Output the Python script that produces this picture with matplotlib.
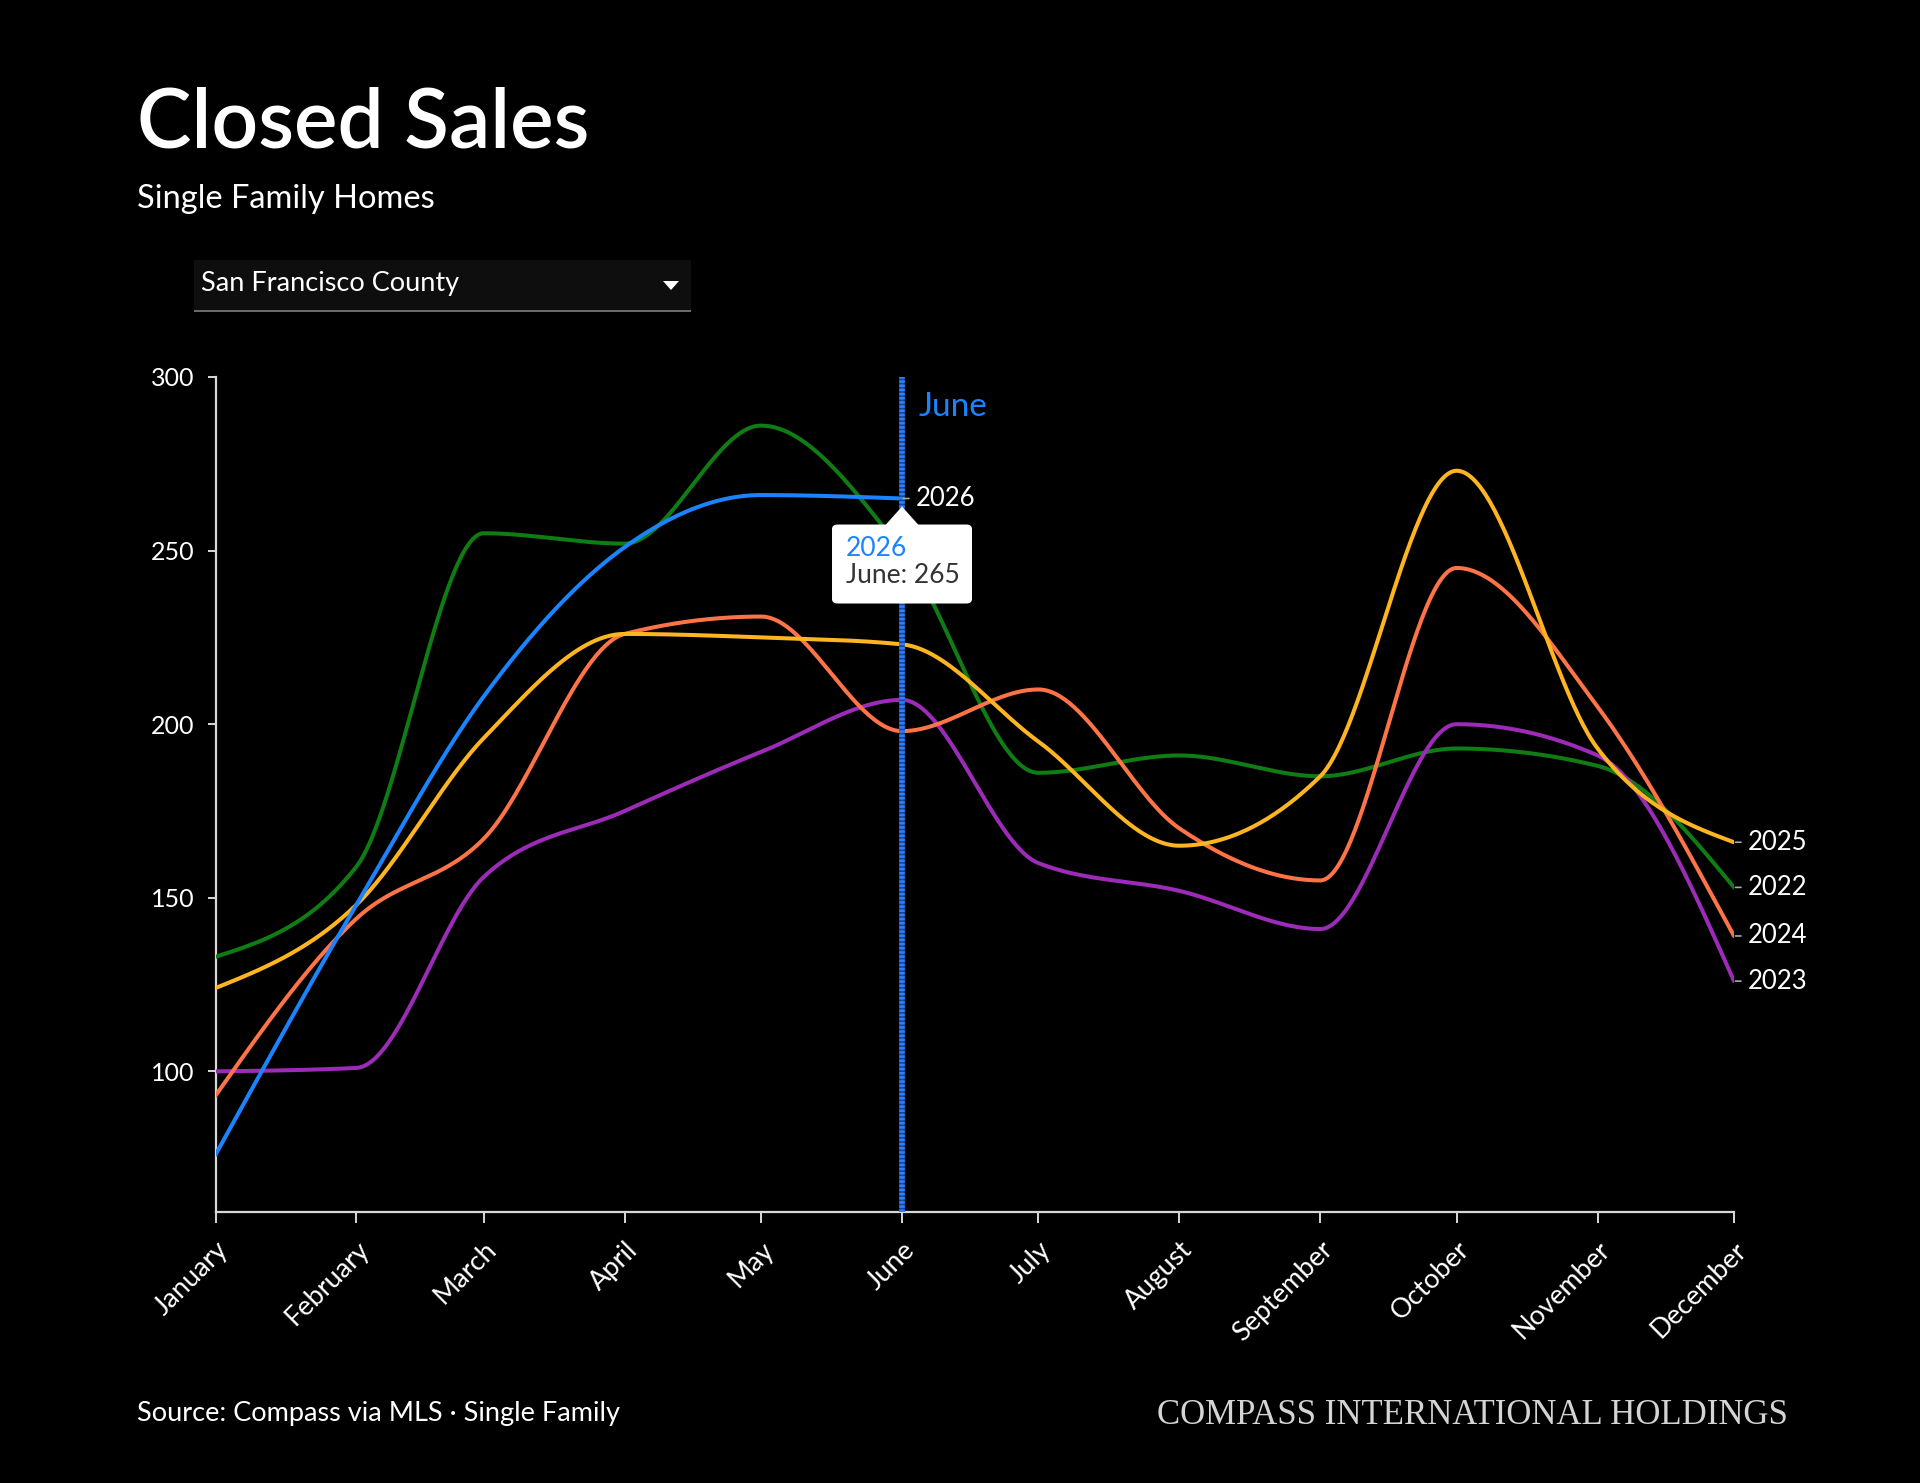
import numpy as np
import pandas as pd
import matplotlib
matplotlib.use("Agg")
import matplotlib.pyplot as plt
import matplotlib.dates as mdates
from matplotlib.patches import FancyBboxPatch, Polygon, Rectangle

# ---- data ----
months = ["January", "February", "March", "April", "May", "June", "July",
          "August", "September", "October", "November", "December"]
month_dates = pd.date_range("2026-01-01", periods=12, freq="MS")

sales_2022 = [133, 159, 255, 252, 286, 250, 186, 191, 185, 193, 188, 153]
sales_2023 = [100, 101, 156, 175, 192, 207, 160, 152, 141, 200, 191, 126]
sales_2024 = [93, 144, 167, 226, 231, 198, 210, 170, 155, 245, 205, 139]
sales_2025 = [124, 148, 196, 226, 225, 223, 195, 165, 185, 273, 193, 166]
sales_2026 = [76, 148, 208, 251, 266, 265]

years = ["2022", "2023", "2024", "2025", "2026"]
colors = ["#0f7d14", "#9c2bb8", "#ff7446", "#ffb520", "#1a84ff"]
all_sales = [sales_2022, sales_2023, sales_2024, sales_2025, sales_2026]

y_ticks = [100, 150, 200, 250, 300]

BG = "#000000"
FONT = ["Lato", "DejaVu Sans"]
plt.rcParams["font.family"] = FONT


def monotone_x(x, y, n=60):
    # same shape as d3.curveMonotoneX
    x = np.asarray(x, float)
    y = np.asarray(y, float)
    h = np.diff(x)
    s = np.diff(y) / h
    t = np.zeros_like(y)
    sgn = lambda v: -1.0 if v < 0 else 1.0
    for i in range(1, len(x) - 1):
        p = (s[i - 1] * h[i] + s[i] * h[i - 1]) / (h[i - 1] + h[i])
        t[i] = (sgn(s[i - 1]) + sgn(s[i])) * min(abs(s[i - 1]), abs(s[i]), 0.5 * abs(p))
    t[0] = (3 * s[0] - t[1]) / 2
    t[-1] = (3 * s[-1] - t[-2]) / 2
    xs, ys = [], []
    u = np.linspace(0, 1, n)
    for i in range(len(x) - 1):
        h00 = 2 * u**3 - 3 * u**2 + 1
        h10 = u**3 - 2 * u**2 + u
        h01 = -2 * u**3 + 3 * u**2
        h11 = u**3 - u**2
        xs.append(x[i] + u * h[i])
        ys.append(h00 * y[i] + h10 * h[i] * t[i] + h01 * y[i + 1] + h11 * h[i] * t[i + 1])
    return np.concatenate(xs), np.concatenate(ys)


W, H = 1920, 1483
fig = plt.figure(figsize=(W / 100, H / 100), dpi=100, facecolor=BG)
ax = fig.add_axes([215.5 / W, 1 - 1212 / H, (1734 - 215.5) / W, (1212 - 377) / H])
ax.set_facecolor(BG)

xnum = mdates.date2num(month_dates)

for yr, vals, c in zip(years, all_sales, colors):
    xs, ys = monotone_x(xnum[:len(vals)], vals)
    ax.plot(xs, ys, color=c, lw=2.9, solid_capstyle="round", zorder=3)

ax.set_xlim(xnum[0], xnum[-1])
ax.set_ylim(59.5, 300)

for side in ["top", "right"]:
    ax.spines[side].set_visible(False)
for side in ["left", "bottom"]:
    ax.spines[side].set_color("#d8d8d8")
    ax.spines[side].set_linewidth(1.6)

ax.set_yticks(y_ticks)
ax.set_yticklabels([str(v) for v in y_ticks])
ax.set_xticks(xnum)
ax.set_xticklabels(months, rotation=45, ha="right", va="top", rotation_mode="anchor")
ax.tick_params(axis="y", colors="#d8d8d8", labelcolor="white", labelsize=18,
               length=6, width=1.4, pad=9)
ax.tick_params(axis="x", colors="#d8d8d8", labelcolor="white", labelsize=19.5,
               length=8, width=1.4, pad=10)

# June marker line
june_x = xnum[5]
ax.axvline(june_x, color="#17479a", lw=4, zorder=4)
ax.axvline(june_x, color="#2f80ff", lw=4, dashes=(0.45, 0.3), zorder=4)
ax.annotate("June", xy=(june_x, 300), xytext=(12, -11), textcoords="offset points",
            color="#1a84ff", fontsize=24, ha="left", va="top")

# end-of-line year labels
for yr, vals in zip(years, all_sales):
    xe, ye = xnum[len(vals) - 1], vals[-1]
    ax.annotate("", xy=(xe, ye), xytext=(7, 0), textcoords="offset pixels",
                arrowprops=dict(arrowstyle="-", color="#aaaaaa", lw=1.2,
                                shrinkA=0, shrinkB=1), zorder=5)
    ax.annotate(yr, xy=(xe, ye), xytext=(10, 0), textcoords="offset points",
                color="white", fontsize=18.5, ha="left", va="center", zorder=6)

# tooltip
fig.canvas.draw()
px, py = ax.transData.transform((june_x, sales_2026[-1]))
to_fig = fig.transFigure.inverted()


def fpt(x, y):
    return tuple(to_fig.transform((x, y)))


tri = Polygon([fpt(px, py - 8), fpt(px - 17, py - 27), fpt(px + 17, py - 27)],
              closed=True, transform=fig.transFigure, facecolor="white",
              edgecolor="none", zorder=10)
fig.patches.append(tri)
bx0, by0 = fpt(px - 70, py - 105)
bx1, by1 = fpt(px + 70, py - 26)
box = FancyBboxPatch((bx0, by0), bx1 - bx0, by1 - by0,
                     boxstyle="round,pad=0,rounding_size=0.003",
                     transform=fig.transFigure, facecolor="white",
                     edgecolor="none", zorder=10)
fig.patches.append(box)
tx, ty = fpt(px - 56, py - 50)
fig.text(tx, ty, "2026", color="#1a84ff", fontsize=19, ha="left", va="center", zorder=11)
tx, ty = fpt(px - 56, py - 77)
fig.text(tx, ty, "June: 265", color="#333333", fontsize=19, ha="left", va="center", zorder=11)

# header
fig.text(137 / W, 1 - 148 / H, "Closed Sales", color="white", fontsize=59,
         fontweight="semibold", ha="left", va="baseline")
fig.text(137 / W, 1 - 208 / H, "Single Family Homes", color="white", fontsize=23.5,
         ha="left", va="baseline")

# dropdown
fig.patches.append(Rectangle((193.5 / W, 1 - 311 / H), (690.6 - 193.5) / W, (311 - 259.6) / H,
                             transform=fig.transFigure, facecolor="#0e0e0e",
                             edgecolor="none", zorder=1))
fig.patches.append(Rectangle((193.5 / W, 1 - 311.5 / H), (690.6 - 193.5) / W, 1.6 / H,
                             transform=fig.transFigure, facecolor="#6a6a6a",
                             edgecolor="none", zorder=2))
fig.text(201 / W, 1 - 283 / H, "San Francisco County", color="white", fontsize=19.5,
         ha="left", va="center")
fig.patches.append(Polygon([fpt(663, H - 281), fpt(679, H - 281), fpt(671, H - 290)],
                           closed=True, transform=fig.transFigure,
                           facecolor="white", edgecolor="none", zorder=3))

# footer
fig.text(137 / W, 1 - 1414 / H, "Source: Compass via MLS \u00b7 Single Family",
         color="white", fontsize=19.5, ha="left", va="center")
fig.text(1788 / W, 1 - 1415 / H, "COMPASS INTERNATIONAL HOLDINGS", color="#d4d4d4",
         fontsize=25, family=["Liberation Serif", "DejaVu Serif"],
         ha="right", va="center")

fig.savefig("out.png", dpi=100, facecolor=BG)
